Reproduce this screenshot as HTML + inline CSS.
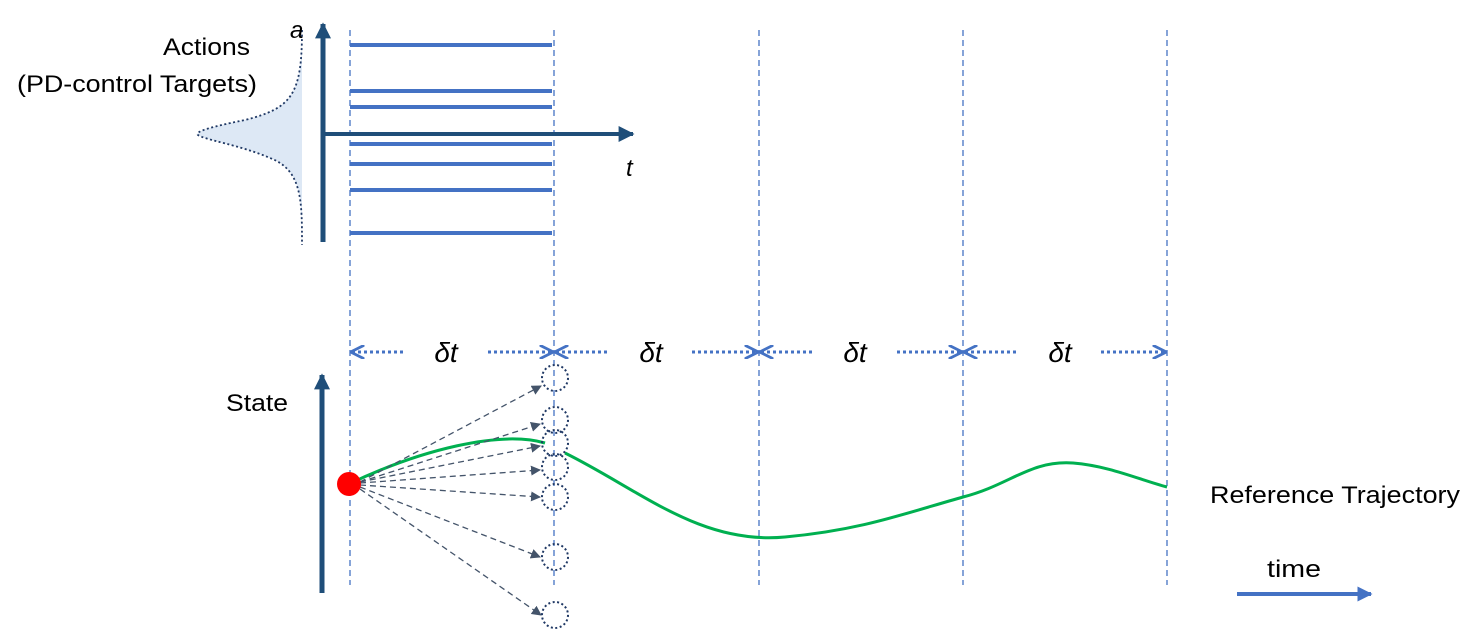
<!DOCTYPE html>
<html><head><style>
html,body{margin:0;padding:0;background:#fff;}
svg{display:block;}
text{font-family:"Liberation Sans",sans-serif;}
</style></head><body>
<svg width="1479" height="640" viewBox="0 0 1479 640" xmlns="http://www.w3.org/2000/svg">
<defs>
<marker id="ah" viewBox="0 0 10 10" refX="9" refY="5" markerUnits="userSpaceOnUse" markerWidth="16" markerHeight="16" orient="auto"><path d="M0,0L10,5L0,10z" fill="#1f4e79"/></marker>
<marker id="ad" viewBox="0 0 10 10" refX="9" refY="5" markerUnits="userSpaceOnUse" markerWidth="10" markerHeight="10" orient="auto"><path d="M0,0L10,5L0,10z" fill="#44546a"/></marker>
<marker id="ab" viewBox="0 0 10 10" refX="9" refY="5" markerUnits="userSpaceOnUse" markerWidth="14" markerHeight="14" orient="auto-start-reverse"><path d="M0,0L10,5L0,10" fill="none" stroke="#4472c4" stroke-width="2"/></marker>
<marker id="at" viewBox="0 0 10 10" refX="9" refY="5" markerUnits="userSpaceOnUse" markerWidth="15" markerHeight="15" orient="auto"><path d="M0,0L10,5L0,10z" fill="#4472c4"/></marker>
</defs>
<g stroke="#4472c4" stroke-width="1.3" stroke-dasharray="6,4">
<line x1="350" y1="30" x2="350" y2="585"/>
<line x1="554" y1="30" x2="554" y2="585"/>
<line x1="759" y1="30" x2="759" y2="585"/>
<line x1="963" y1="30" x2="963" y2="585"/>
<line x1="1167" y1="30" x2="1167" y2="585"/>
</g>
<path d="M302,30 C302,95 292,108 245,120 C205,128 195,132 198,135 C205,140 240,145 270,158 C302,170 302,200 302,245 Z" fill="#dde8f5" stroke="none"/>
<path d="M302,30 C302,95 292,108 245,120 C205,128 195,132 198,135 C205,140 240,145 270,158 C302,170 302,200 302,245" fill="none" stroke="#1f3864" stroke-width="1.8" stroke-dasharray="2,2.5"/>
<g stroke="#4472c4" stroke-width="4">
<line x1="350" y1="45" x2="552" y2="45"/>
<line x1="350" y1="91" x2="552" y2="91"/>
<line x1="350" y1="107" x2="552" y2="107"/>
<line x1="350" y1="144" x2="552" y2="144"/>
<line x1="350" y1="164" x2="552" y2="164"/>
<line x1="350" y1="190" x2="552" y2="190"/>
<line x1="350" y1="233" x2="552" y2="233"/>
</g>
<line x1="323" y1="242" x2="323" y2="24" stroke="#1f4e79" stroke-width="5" marker-end="url(#ah)"/>
<line x1="323" y1="134" x2="633" y2="134" stroke="#1f4e79" stroke-width="4" marker-end="url(#ah)"/>
<text x="290" y="38" font-family="Liberation Serif" font-style="italic" font-size="24">a</text>
<text x="626" y="176" font-family="Liberation Serif" font-style="italic" font-size="24">t</text>
<text x="163" y="55" font-size="24" textLength="87" lengthAdjust="spacingAndGlyphs">Actions</text>
<text x="17" y="92" font-size="24" textLength="240" lengthAdjust="spacingAndGlyphs">(PD-control Targets)</text>
<g stroke="#4472c4" stroke-width="3" stroke-dasharray="3,3" fill="none">
<line x1="352" y1="352" x2="405" y2="352" marker-start="url(#ab)"/>
<line x1="488" y1="352" x2="552" y2="352" marker-end="url(#ab)"/>
<line x1="556" y1="352" x2="610" y2="352" marker-start="url(#ab)"/>
<line x1="692" y1="352" x2="757" y2="352" marker-end="url(#ab)"/>
<line x1="761" y1="352" x2="814" y2="352" marker-start="url(#ab)"/>
<line x1="897" y1="352" x2="961" y2="352" marker-end="url(#ab)"/>
<line x1="965" y1="352" x2="1018" y2="352" marker-start="url(#ab)"/>
<line x1="1101" y1="352" x2="1165" y2="352" marker-end="url(#ab)"/>
</g>
<g font-family="Liberation Serif" font-style="italic" font-size="28" text-anchor="middle">
<text x="446" y="362">δt</text><text x="651" y="362">δt</text><text x="855" y="362">δt</text><text x="1060" y="362">δt</text>
</g>
<line x1="322" y1="593" x2="322" y2="375" stroke="#1f4e79" stroke-width="5" marker-end="url(#ah)"/>
<text x="226" y="411" font-size="24" textLength="62" lengthAdjust="spacingAndGlyphs">State</text>
<path d="M349,484 C420,450 500,430 545,443 M565,453 C640,490 700,545 785,537 C860,530 900,515 963,497 C1010,485 1030,460 1073,463 C1110,466 1140,480 1167,487" fill="none" stroke="#00b050" stroke-width="3"/>
<g stroke="#44546a" stroke-width="1.3" stroke-dasharray="6,4" marker-end="url(#ad)">
<line x1="360" y1="482" x2="541" y2="386"/>
<line x1="360" y1="482" x2="540" y2="424"/>
<line x1="360" y1="482" x2="540" y2="446"/>
<line x1="360" y1="483" x2="540" y2="470"/>
<line x1="360" y1="485" x2="540" y2="497"/>
<line x1="360" y1="487" x2="540" y2="557"/>
<line x1="360" y1="489" x2="541" y2="615"/>
</g>
<g fill="none" stroke="#1f3864" stroke-width="2" stroke-dasharray="2,2.5">
<circle cx="555" cy="378" r="13"/><circle cx="555" cy="420" r="13"/><circle cx="555" cy="443" r="13"/><circle cx="555" cy="467" r="13"/><circle cx="555" cy="497" r="13"/><circle cx="555" cy="557" r="13"/><circle cx="555" cy="615" r="13"/>
</g>
<circle cx="349" cy="484" r="12" fill="#ff0000"/>
<text x="1210" y="503" font-size="24" textLength="250" lengthAdjust="spacingAndGlyphs">Reference Trajectory</text>
<text x="1267" y="577" font-size="24" textLength="54" lengthAdjust="spacingAndGlyphs">time</text>
<line x1="1237" y1="594" x2="1371" y2="594" stroke="#4472c4" stroke-width="4" marker-end="url(#at)"/>
</svg>
</body></html>
